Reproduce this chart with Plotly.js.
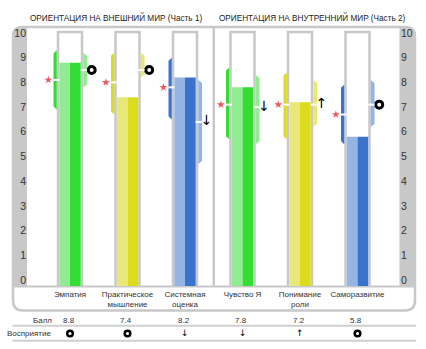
<!DOCTYPE html>
<html>
<head>
<meta charset="utf-8">
<script src="https://cdn.plot.ly/plotly-3.0.1.min.js"></script>
<style>html,body{margin:0;padding:0;background:#fff;}#chart{width:426px;height:349px;}</style>
</head>
<body>
<div id="chart"></div>
<script>
// ---- data ----
const categories = ['Эмпатия', 'Практическое<br>мышление', 'Системная<br>оценка', 'Чувство Я', 'Понимание<br>роли', 'Саморазвитие'];
const groupTitles = ['ОРИЕНТАЦИЯ НА ВНЕШНИЙ МИР (Часть 1)', 'ОРИЕНТАЦИЯ НА ВНУТРЕННИЙ МИР (Часть 2)'];
const scores = [8.8, 7.4, 8.2, 7.8, 7.2, 5.8];
const starValues = [8.1, 8.0, 7.8, 7.1, 7.1, 6.7];
const perceptionValues = [8.5, 8.5, 6.4, 7.0, 7.1, 7.1];
const perception = ['o', 'o', 'down', 'down', 'up', 'o'];
const leftLow = [6.9, 6.7, 6.5, 5.7, 5.7, 5.5];
const leftHigh = [9.3, 9.2, 9.0, 8.6, 8.4, 7.9];
const rightLow = [7.8, 8.2, 4.7, 5.5, 6.2, 6.2];
const rightHigh = [9.2, 9.2, 8.1, 8.3, 8.1, 8.1];
const yTicks = [0, 1, 2, 3, 4, 5, 6, 7, 8, 9, 10];
const rowLabels = ['Балл', 'Восприятие'];

// ---- styles ----
const lightColors = ['#90ec90', '#e8e878', '#94b4e4', '#90ec90', '#e8e878', '#94b4e4'];
const darkColors = ['#33dd33', '#dcdc1c', '#3a72cc', '#33dd33', '#dcdc1c', '#3a72cc'];
const GRAY = '#c8c8c8';
const TXT = '#333333';
const FONT = 'Liberation Sans, Arial, sans-serif';

// geometry (layout)
const L = 27, R = 400, T = 28, B = 286, WIDTH = 426, HEIGHT = 349;
const Y_RANGE = [-0.2429, 10.2024];
const X_RANGE = [-0.748, 5.739];
const X = px => (px - L) / (R - L);       // pixel -> paper x
const Y = py => (B - py) / (B - T);       // pixel -> paper y

const xs = categories.map((c, i) => i);
const BAR_HALF = 0.186, TUBE_HALF = 0.2087, WING_IN = 0.2304, WING_OUT_L = 0.287, WING_OUT_R = 0.296;
const MARK_OFF = 0.377, BEVEL = 0.12, BAR_BASE = -0.5, TUBE_TOP = 10.04;
const arrowChar = p => p === 'down' ? '↓' : '↑';

const traces = [];
// bars (light left half, dark right half)
traces.push({
  type: 'bar', x: xs, y: scores.map(s => s - BAR_BASE), base: BAR_BASE,
  offset: -BAR_HALF, width: BAR_HALF, marker: {color: lightColors, line: {width: 0}},
  hoverinfo: 'skip', showlegend: false
});
traces.push({
  type: 'bar', x: xs, y: scores.map(s => s - BAR_BASE), base: BAR_BASE,
  offset: 0, width: BAR_HALF, marker: {color: darkColors, line: {width: 0}},
  hoverinfo: 'skip', showlegend: false
});
// stars
traces.push({
  type: 'scatter', mode: 'markers', x: xs.map(x => x - MARK_OFF), y: starValues, yaxis: 'y2',
  marker: {symbol: 'star', size: 6, color: '#f4565c', line: {width: 0}},
  hoverinfo: 'skip', showlegend: false
});
// perception markers next to bars
const circIdx = xs.filter(i => perception[i] === 'o');
const arrIdx = xs.filter(i => perception[i] !== 'o');
traces.push({
  type: 'scatter', mode: 'markers', x: circIdx.map(i => i + MARK_OFF), y: circIdx.map(i => perceptionValues[i]),
  marker: {symbol: 'circle-open', size: 7, color: '#000', line: {width: 3, color: '#000'}},
  hoverinfo: 'skip', showlegend: false, cliponaxis: false
});
traces.push({
  type: 'scatter', mode: 'text', x: arrIdx.map(i => i + MARK_OFF), y: arrIdx.map(i => perceptionValues[i]),
  text: arrIdx.map(i => arrowChar(perception[i])),
  textfont: {family: 'DejaVu Sans', size: 14, color: '#000'}, textposition: 'middle center',
  hoverinfo: 'skip', showlegend: false, cliponaxis: false
});

// ---- shapes ----
const shapes = [];
const rr = 10;
const fx0 = X(13), fx1 = X(415), fy0 = Y(27), fy1 = Y(310.5);
const rx = rr / (R - L), ry = rr / (B - T);
shapes.push({ // left band
  type: 'path', xref: 'paper', yref: 'paper', layer: 'below',
  path: `M ${X(12)},${Y(286)} L ${X(12)},${Y(26 + rr)} Q ${X(12)},${Y(26)} ${X(12 + rr)},${Y(26)} L ${X(27)},${Y(26)} L ${X(27)},${Y(286)} Z`,
  fillcolor: GRAY, line: {width: 0}
});
shapes.push({ // right band
  type: 'path', xref: 'paper', yref: 'paper', layer: 'below',
  path: `M ${X(399.5)},${Y(286)} L ${X(399.5)},${Y(26)} L ${X(416 - rr)},${Y(26)} Q ${X(416)},${Y(26)} ${X(416)},${Y(26 + rr)} L ${X(416)},${Y(286)} Z`,
  fillcolor: GRAY, line: {width: 0}
});
shapes.push({ // outline
  type: 'path', xref: 'paper', yref: 'paper', layer: 'below',
  path: `M ${fx0},${fy0 - ry} L ${fx0},${fy1 + ry} Q ${fx0},${fy1} ${fx0 + rx},${fy1} L ${fx1 - rx},${fy1} Q ${fx1},${fy1} ${fx1},${fy1 + ry} L ${fx1},${fy0 - ry} Q ${fx1},${fy0} ${fx1 - rx},${fy0} L ${fx0 + rx},${fy0} Q ${fx0},${fy0} ${fx0},${fy0 - ry} Z`,
  line: {color: GRAY, width: 2.5}
});
// bottom line of plot area
shapes.push({type: 'line', xref: 'paper', yref: 'paper', x0: X(13), x1: X(415), y0: Y(286.5), y1: Y(286.5), line: {color: GRAY, width: 2}, layer: 'below'});
// row separator lines
[325.7, 340.7].forEach(py => shapes.push({type: 'line', xref: 'paper', yref: 'paper', x0: X(12.5), x1: X(416), y0: Y(py), y1: Y(py), line: {color: '#cfcfcf', width: 2}}));
// divider between groups
shapes.push({type: 'line', xref: 'x', yref: 'paper', x0: 2.5, x1: 2.5, y0: 0, y1: 1, line: {color: GRAY, width: 2.5}, layer: 'below'});
// tubes, wings, dashes
xs.forEach(i => {
  shapes.push({type: 'rect', xref: 'x', yref: 'y', layer: 'below', x0: i - TUBE_HALF, x1: i + TUBE_HALF, y0: -1, y1: TUBE_TOP,
    fillcolor: '#ffffff', line: {color: GRAY, width: 2.5}});
  const li = i - WING_IN, lo = i - WING_OUT_L;
  shapes.push({type: 'path', xref: 'x', yref: 'y', layer: 'below',
    path: `M ${li},${leftLow[i]} L ${li},${leftHigh[i]} L ${lo},${leftHigh[i] - BEVEL} L ${lo},${leftLow[i] + BEVEL} Z`,
    fillcolor: darkColors[i], line: {width: 0}});
  const ri = i + WING_IN, ro = i + WING_OUT_R;
  shapes.push({type: 'path', xref: 'x', yref: 'y', layer: 'below',
    path: `M ${ri},${rightLow[i]} L ${ri},${rightHigh[i]} L ${ro},${rightHigh[i] - BEVEL} L ${ro},${rightLow[i] + BEVEL} Z`,
    fillcolor: lightColors[i], line: {width: 0}});
  shapes.push({type: 'line', xref: 'x', yref: 'y', x0: lo, x1: i - BAR_HALF, y0: starValues[i], y1: starValues[i], line: {color: '#ffffff', width: 2}});
  shapes.push({type: 'line', xref: 'x', yref: 'y', x0: i + BAR_HALF, x1: ro, y0: perceptionValues[i], y1: perceptionValues[i], line: {color: '#ffffff', width: 2}});
});
// perception row: circles
const ROW_PY = 333.5;
circIdx.forEach(i => shapes.push({
  type: 'circle', xref: 'x', yref: 'paper', xsizemode: 'pixel', ysizemode: 'pixel',
  xanchor: i, yanchor: Y(ROW_PY), x0: -2.8, x1: 2.8, y0: -2.8, y1: 2.8,
  line: {color: '#000', width: 2.5}, fillcolor: 'rgba(0,0,0,0)'
}));

// ---- annotations ----
const annotations = [];
const ann = (o) => annotations.push(Object.assign({showarrow: false, xanchor: 'center', yanchor: 'middle'}, o));
ann({xref: 'paper', yref: 'paper', x: X(116), y: Y(17.5), text: groupTitles[0], font: {family: FONT, size: 8.2, color: '#222'}});
ann({xref: 'paper', yref: 'paper', x: X(312), y: Y(17.5), text: groupTitles[1], font: {family: FONT, size: 8.2, color: '#222'}});
ann({xref: 'paper', yref: 'paper', x: X(53.5), y: Y(320), xanchor: 'right', text: rowLabels[0], font: {family: FONT, size: 8, color: TXT}});
ann({xref: 'paper', yref: 'paper', x: X(53.5), y: Y(ROW_PY), xanchor: 'right', text: rowLabels[1], font: {family: FONT, size: 8, color: TXT}});
scores.forEach((s, i) => ann({xref: 'x', yref: 'paper', x: i - 0.02, y: Y(320), text: s.toFixed(1), font: {family: FONT, size: 8, color: TXT}}));
arrIdx.forEach(i => ann({xref: 'x', yref: 'paper', x: i, y: Y(ROW_PY), text: arrowChar(perception[i]), font: {family: 'DejaVu Sans', size: 9, color: '#000'}}));

const layout = {
  width: WIDTH, height: HEIGHT,
  margin: {l: L, r: WIDTH - R, t: T, b: HEIGHT - B, pad: 0},
  paper_bgcolor: '#ffffff', plot_bgcolor: '#ffffff',
  showlegend: false, barmode: 'overlay',
  font: {family: FONT, color: TXT},
  xaxis: {range: X_RANGE, tickvals: xs, ticktext: categories, ticks: '', showgrid: false, zeroline: false, showline: false,
    tickfont: {family: FONT, size: 8, color: TXT}, ticklabelstandoff: 2, fixedrange: true},
  yaxis: {range: Y_RANGE, tickvals: yTicks, ticks: '', showgrid: false, zeroline: false, showline: false,
    tickfont: {family: FONT, size: 10.5, color: TXT}, fixedrange: true},
  yaxis2: {range: Y_RANGE, overlaying: 'y', side: 'right', tickvals: yTicks, ticks: '', showgrid: false, zeroline: false, showline: false,
    tickfont: {family: FONT, size: 10.5, color: TXT}, fixedrange: true},
  shapes: shapes, annotations: annotations
};

Plotly.newPlot('chart', traces, layout, {displayModeBar: false, staticPlot: true});
</script>
</body>
</html>
